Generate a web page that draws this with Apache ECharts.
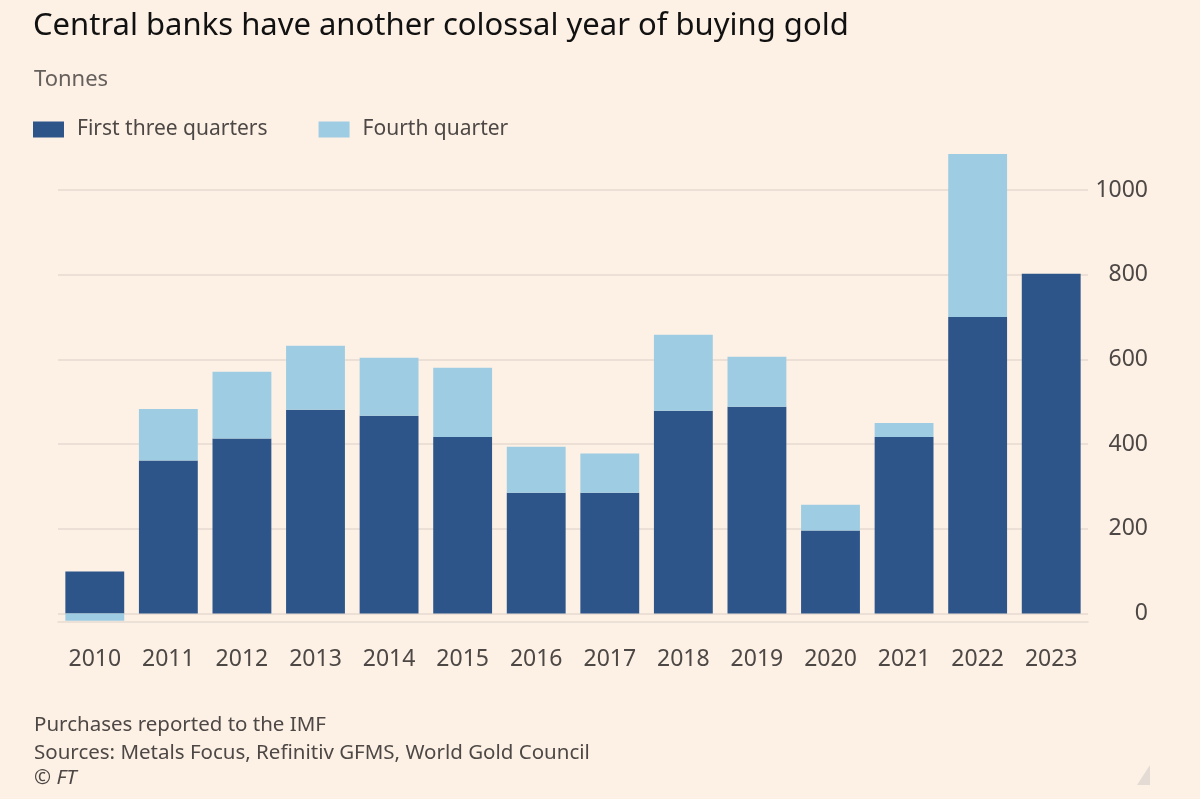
<!DOCTYPE html>
<html>
<head>
<meta charset="utf-8">
<title>Central banks gold buying</title>
<script src="https://cdn.jsdelivr.net/npm/echarts@6/dist/echarts.min.js"></script>
<style>
    html, body { margin: 0; padding: 0; background: #fdf0e5; }
    #chart { width: 1200px; height: 799px; }
</style>
</head>
<body>
<div id="chart"></div>
<script>
// 数据
var years = ['2010', '2011', '2012', '2013', '2014', '2015', '2016', '2017', '2018', '2019', '2020', '2021', '2022', '2023'];
var firstThree = [99, 361, 413, 481, 467, 417, 285, 285, 479, 488, 196, 417, 700, 802];
var fourth = [-17, 122, 158, 151, 137, 163, 109, 93, 179, 118, 61, 33, 385, null];
var yTicks = [0, 200, 400, 600, 800, 1000];

(function () {
    var myechart = echarts.init(document.getElementById('chart'));
    var fontFamily = '"Noto Sans", "Open Sans", sans-serif';
    var gridColor = '#e6dbd1';
    var textColor = '#4d4845';

    var option = {
        backgroundColor: '#fdf0e5',
        animation: false,
        title: [
            {
                text: 'Central banks have another colossal year of buying gold',
                left: 28, top: 6,
                textStyle: { fontFamily: fontFamily, fontSize: 31, fontWeight: 'normal', color: '#111' }
            },
            {
                text: 'Tonnes',
                left: 29, top: 64,
                textStyle: { fontFamily: fontFamily, fontSize: 22, fontWeight: 'normal', color: '#66605c' }
            },
            {
                text: 'Purchases reported to the IMF\nSources: Metals Focus, Refinitiv GFMS, World Gold Council',
                left: 29, top: 706,
                textStyle: { fontFamily: fontFamily, fontSize: 20.5, fontWeight: 'normal', color: textColor, lineHeight: 28 }
            },
            {
                text: '© FT',
                left: 29, top: 763,
                textStyle: { fontFamily: fontFamily, fontSize: 20.5, fontWeight: 'normal', fontStyle: 'italic', color: textColor }
            }
        ],
        legend: {
            left: 33, top: 119,
            itemWidth: 31, itemHeight: 16,
            itemGap: 51,
            icon: 'rect',
            padding: 0,
            textStyle: { fontFamily: fontFamily, fontSize: 21, color: textColor, padding: [0, 0, 0, 8] },
            data: ['First three quarters', 'Fourth quarter']
        },
        grid: {
            left: 58, right: 112, top: 147.6, bottom: 177,
            containLabel: false
        },
        xAxis: {
            type: 'category',
            data: years,
            axisLine: { onZero: false, lineStyle: { color: gridColor, width: 1.5 } },
            axisTick: { alignWithLabel: true, length: 18, lineStyle: { color: gridColor, width: 1.5 } },
            axisLabel: { fontFamily: fontFamily, fontSize: 23, color: textColor, margin: 26 }
        },
        yAxis: {
            type: 'value',
            position: 'right',
            min: -20,
            max: 1100,
            axisLine: { show: false },
            axisTick: { show: false, customValues: yTicks },
            axisLabel: {
                customValues: yTicks,
                formatter: function (v) { return String(v); },
                fontFamily: fontFamily, fontSize: 23, color: textColor,
                align: 'right', margin: 60
            },
            splitLine: { lineStyle: { color: gridColor, width: 1.5 } }
        },
        series: [
            {
                name: 'First three quarters',
                type: 'bar',
                stack: 'total',
                barCategoryGap: '20%',
                itemStyle: { color: '#2d5589' },
                data: firstThree
            },
            {
                name: 'Fourth quarter',
                type: 'bar',
                stack: 'total',
                barCategoryGap: '20%',
                itemStyle: { color: '#9ecde3' },
                data: fourth
            }
        ],
        graphic: [
            {
                type: 'polygon',
                shape: { points: [[1150, 765], [1150, 785], [1137, 785]] },
                style: { fill: '#e3dbd4' }
            }
        ]
    };

    myechart.setOption(option);
    window.addEventListener('resize', function () {
        myechart.resize();
    });
})();
</script>
</body>
</html>
